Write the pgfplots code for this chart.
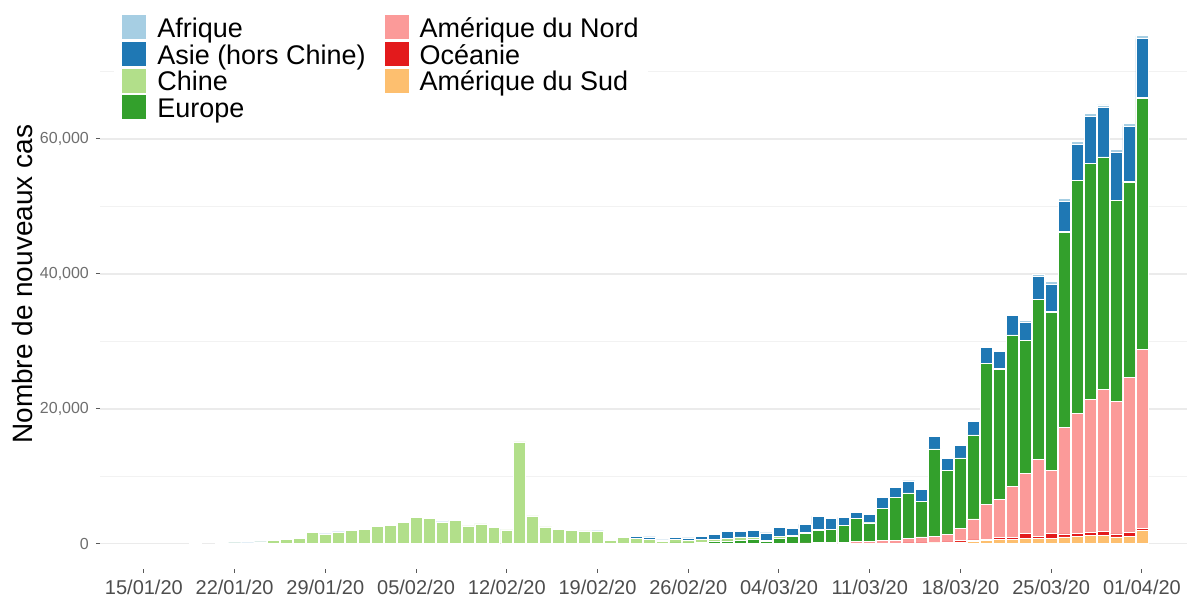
\documentclass[border=0pt]{standalone}
\usepackage{fontspec}
\setmainfont{Liberation Sans}
\usepackage{pgfplots}
\pgfplotsset{compat=1.18}
\usepackage{pgfplotstable}

\definecolor{afr}{HTML}{A6CEE3}
\definecolor{asi}{HTML}{1F78B4}
\definecolor{chn}{HTML}{B2DF8A}
\definecolor{eur}{HTML}{33A02C}
\definecolor{amn}{HTML}{FB9A99}
\definecolor{oce}{HTML}{E31A1C}
\definecolor{ams}{HTML}{FDBF6F}
\definecolor{xtxt}{HTML}{4D4D4D}
\definecolor{ytxt}{HTML}{6E6E6E}

\pgfplotsset{
  legsq/.style={legend image code/.code={\fill[##1,draw=none] (0pt,-4.4pt) rectangle (12pt,7.6pt);}},
  seg/.style={fill=#1, draw=white, line width=0.3pt},
}

% day 0 = 15/01/20
\pgfplotstableread{
d  ams  oce  amn   eur   chn   asi  afr
0  0    0    0     0     0     0    0
1  0    0    0     0     0     0    0
2  0    0    0     0     0     0    0
3  0    0    0     0     0     0    0
4  0    0    0     0     140   1    0
5  0    0    0     0     0     0    0
6  0    0    0     0     150   2    0
7  0    0    0     0     100   3    0
8  0    0    1     0     95    5    0
9  0    0    0     2     250   8    0
10 0    0    0     3     430   10   0
11 0    0    1     0     650   15   0
12 0    0    1     0     760   15   0
13 0    0    0     1     1700  18   0
14 0    0    0     2     1430  20   0
15 0    0    2     3     1720  25   0
16 0    0    0     4     1950  30   0
17 0    0    1     2     2060  35   0
18 0    0    1     0     2560  40   0
19 0    0    2     3     2760  40   0
20 0    0    0     8     3200  40   0
21 0    0    2     3     3880  45   0
22 0    0    0     2     3700  50   0
23 0    0    1     1     3180  45   0
24 0    0    0     8     3400  50   0
25 0    0    0     1     2620  30   0
26 0    0    0     3     2940  35   0
27 0    0    0     1     2450  100  0
28 0    0    1     3     2050  60   0
29 0    0    0     0     15100 40   0
30 0    0    0     2     4120  70   0
31 0    0    1     0     2480  60   1
32 0    0    0     0     2100  120  0
33 0    0    0     0     2000  70   0
34 0    0    2     0     1900  80   0
35 0    0    0     0     1800  100  0
36 0    0    0     5     450   150  0
37 0    0    13    10    880   120  0
38 0    0    0     20    780   320  0
39 0    0    0     70    620   300  0
40 0    0    2     60    300   200  0
41 1    0    3     100   520   250  1
42 0    0    5     100   430   330  0
43 1    1    4     130   440   560  0
44 1    2    10    330   300   700  0
45 1    1    12    400   350   1090 2
46 3    0    15    450   530   840  1
47 1    3    20    650   250   1040 2
48 2    2    25    350   110   1120 1
49 3    5    30    790   250   1330 3
50 5    8    50    1000  130   1040 5
51 8    10   100   1420  140   1180 6
52 10   15   150   1850  100   1920 8
53 12   10   200   1880  50    1580 10
54 15   12   200   2450  45    1180 8
55 20   18   250   3400  20    880  15
56 25   15   330   2700  30    1270 20
57 30   20   400   4720  25    1680 15
58 35   25   480   6340  15    1430 20
59 60   40   640   6760  20    1780 25
60 60   50   890   5280  25    1800 30
61 100  60   940   12930 30    1830 50
62 150  100  1140  9450  40    1720 80
63 250  200  1780  10440 60    1880 100
64 350  200  3110  12400 80    2040 130
65 490  200  5090  20900 60    2300 150
66 640  300  5580  19370 55    2550 150
67 600  300  7560  22430 55    2850 200
68 840  740  8890  19660 45    2660 250
69 740  350  11460 23610 100   3360 300
70 840  640  9340  23510 50    4050 400
71 990  450  15810 28950 45    4500 450
72 1090 490  17690 34530 70    5270 450
73 1240 400  19760 34980 50    6960 450
74 1240 590  21040 34430 40    7320 400
75 990  450  19610 29790 40    7070 450
76 1090 590  22970 28950 80    8170 400
77 1930 300  26530 37300 40    8750 450
}\cases

\begin{document}
\begin{tikzpicture}
\begin{axis}[
  scale only axis,
  width=544pt, height=284.5pt,
  xmin=-3.39, xmax=80.5,
  ymin=-3700, ymax=80600,
  ybar stacked, bar width=0.92,
  axis line style={draw=none},
  tickpos=left, tick align=outside,
  major tick length=2pt, minor tick length=0pt,
  tick style={gray!70!black, line width=0.5pt},
  xtick={0,7,...,77},
  xticklabels={15/01/20,22/01/20,29/01/20,05/02/20,12/02/20,19/02/20,26/02/20,04/03/20,11/03/20,18/03/20,25/03/20,01/04/20},
  ytick={0,20000,40000,60000},
  minor ytick={10000,30000,50000,70000},
  ymajorgrids, yminorgrids,
  major grid style={gray!16, line width=0.75pt},
  minor grid style={gray!10, line width=0.45pt},
  scaled y ticks=false,
  /pgf/number format/assume math mode=true,
  /pgf/number format/1000 sep={,},
  yticklabel style={font=\fontsize{8}{9.6}\selectfont, text=ytxt},
  xticklabel style={font=\fontsize{10}{12}\selectfont, text=xtxt},
  ylabel={Nombre de nouveaux cas},
  ylabel style={font=\fontsize{14}{16}\selectfont, at={(axis description cs:-0.0708,0.5)}, anchor=center},
  legend columns=2,
  legend cell align=left,
  legend style={
    at={(axis description cs:0,1)}, anchor=north west,
    xshift=7pt, yshift=-3.5pt,
    draw=none, fill=white, inner sep=4pt,
    font=\fontsize{13.5}{14}\selectfont,
    row sep=-0.95pt,
    nodes={inner sep=0.5pt, text height=9.6pt, text depth=2.75pt},
    /tikz/every odd column/.append style={column sep=5pt},
    /tikz/every even column/.append style={column sep=9pt},
  },
]
% legend keys in the reference's order (row by row)
\addlegendimage{legsq, fill=afr}\addlegendentry{Afrique}
\addlegendimage{legsq, fill=amn}\addlegendentry{Amérique du Nord}
\addlegendimage{legsq, fill=asi}\addlegendentry{Asie (hors Chine)}
\addlegendimage{legsq, fill=oce}\addlegendentry{Océanie}
\addlegendimage{legsq, fill=chn}\addlegendentry{Chine}
\addlegendimage{legsq, fill=ams}\addlegendentry{Amérique du Sud}
\addlegendimage{legsq, fill=eur}\addlegendentry{Europe}

% stacked from the bottom
\addplot[seg=ams] table[x=d, y=ams] {\cases};
\addplot[seg=oce] table[x=d, y=oce] {\cases};
\addplot[seg=amn] table[x=d, y=amn] {\cases};
\addplot[seg=eur] table[x=d, y=eur] {\cases};
\addplot[seg=chn] table[x=d, y=chn] {\cases};
\addplot[seg=asi] table[x=d, y=asi] {\cases};
\addplot[seg=afr] table[x=d, y=afr] {\cases};
\end{axis}
\path (current axis.south west) ++(-50pt,-13pt);
\end{tikzpicture}
\end{document}
